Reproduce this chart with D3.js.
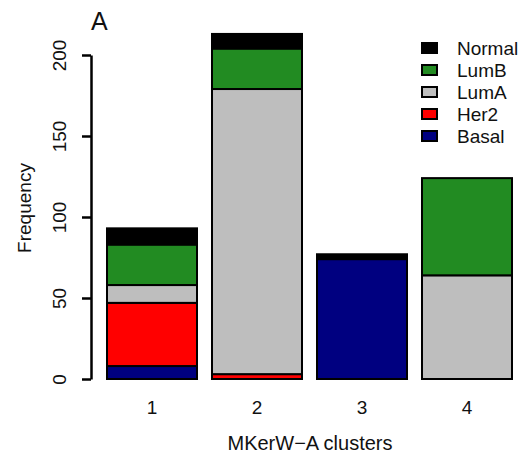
<!DOCTYPE html>
<html>
<head>
<meta charset="utf-8">
<script src="https://cdn.jsdelivr.net/npm/d3@7"></script>
<style>
  body { margin: 0; background: #fff; }
  svg { font-family: "Liberation Sans", Arial, Helvetica, sans-serif; }
</style>
</head>
<body>
<div id="chart"></div>
<script>
// counts per cluster
var clusters = ["1", "2", "3", "4"];
var subtypes = ["Basal", "Her2", "LumA", "LumB", "Normal"];
var basal  = [8, 0, 74, 0];
var her2   = [39, 3, 0, 0];
var lumA   = [11, 176, 0, 64];
var lumB   = [25, 25, 0, 60];
var normal = [10, 9, 3, 0];
var yTicks = [0, 50, 100, 150, 200];

var colors = {Basal: "#000080", Her2: "#ff0000", LumA: "#bebebe", LumB: "#228b22", Normal: "#000000"};

var table = clusters.map(function(c, i) {
    return {cluster: c, Basal: basal[i], Her2: her2[i], LumA: lumA[i], LumB: lumB[i], Normal: normal[i]};
});
var series = d3.stack().keys(subtypes)(table);

var width = 522, height = 460;

var svg = d3.select("#chart")
    .append("svg")
    .attr("width", width)
    .attr("height", height);

var x = d3.scaleBand()
    .domain(clusters)
    .range([99.5, 519.5])
    .paddingInner(15 / 105)
    .paddingOuter(15 / 210);

var y = d3.scaleLinear()
    .domain([0, 200])
    .range([379, 55]);

// stacked segments
svg.append("g").selectAll("g")
    .data(series)
    .enter()
    .append("g")
    .attr("fill", function(d) { return colors[d.key]; })
    .selectAll("rect")
    .data(function(d) { return d; })
    .enter()
    .append("rect")
    .attr("x", function(d) { return x(d.data.cluster); })
    .attr("y", function(d) { return y(d[1]); })
    .attr("height", function(d) { return y(d[0]) - y(d[1]); })
    .attr("width", x.bandwidth())
    .attr("stroke", "#000")
    .attr("stroke-width", 2)
    .filter(function(d) { return d[1] - d[0] <= 0; })
    .remove();

// y axis
var yAxis = d3.axisLeft(y)
    .tickValues(yTicks)
    .tickSize(9)
    .tickSizeOuter(0);

var gy = svg.append("g")
    .attr("class", "y axis")
    .attr("transform", "translate(91,0)")
    .call(yAxis);

gy.select(".domain").attr("stroke-width", 2.5);
gy.selectAll(".tick line").attr("stroke-width", 2.5);
gy.selectAll(".tick text")
    .attr("x", null)
    .attr("dy", null)
    .attr("transform", "translate(-25,0) rotate(-90)")
    .attr("text-anchor", "middle")
    .attr("fill", "#111")
    .style("font-size", "19px");

// x labels, no axis line
var gx = svg.append("g")
    .attr("class", "x axis")
    .attr("transform", "translate(0,379)")
    .call(d3.axisBottom(x).tickSize(0));

gx.select(".domain").remove();
gx.selectAll(".tick text")
    .attr("y", 35)
    .attr("dy", null)
    .attr("fill", "#111")
    .style("font-size", "19px");

svg.append("text")
    .attr("x", 310)
    .attr("y", 450)
    .attr("text-anchor", "middle")
    .attr("fill", "#111")
    .style("font-size", "20px")
    .text("MKerW\u2212A clusters");

svg.append("text")
    .attr("transform", "translate(31,208) rotate(-90)")
    .attr("text-anchor", "middle")
    .attr("fill", "#111")
    .style("font-size", "19px")
    .text("Frequency");

svg.append("text")
    .attr("x", 91)
    .attr("y", 30)
    .attr("fill", "#111")
    .style("font-size", "25px")
    .text("A");

// legend, top entry is the last stacked series
var legendKeys = subtypes.slice().reverse();
var legend = svg.append("g").attr("transform", "translate(421,48)");
var rows = legend.selectAll("g")
    .data(legendKeys)
    .enter()
    .append("g")
    .attr("transform", function(d, i) { return "translate(0," + (i * 22) + ")"; });

rows.append("rect")
    .attr("x", 1)
    .attr("y", -5)
    .attr("width", 15)
    .attr("height", 10)
    .attr("fill", function(d) { return colors[d]; })
    .attr("stroke", "#000")
    .attr("stroke-width", 2);

rows.append("text")
    .attr("x", 36)
    .attr("y", 7)
    .attr("fill", "#111")
    .style("font-size", "19px")
    .text(function(d) { return d; });
</script>
</body>
</html>
